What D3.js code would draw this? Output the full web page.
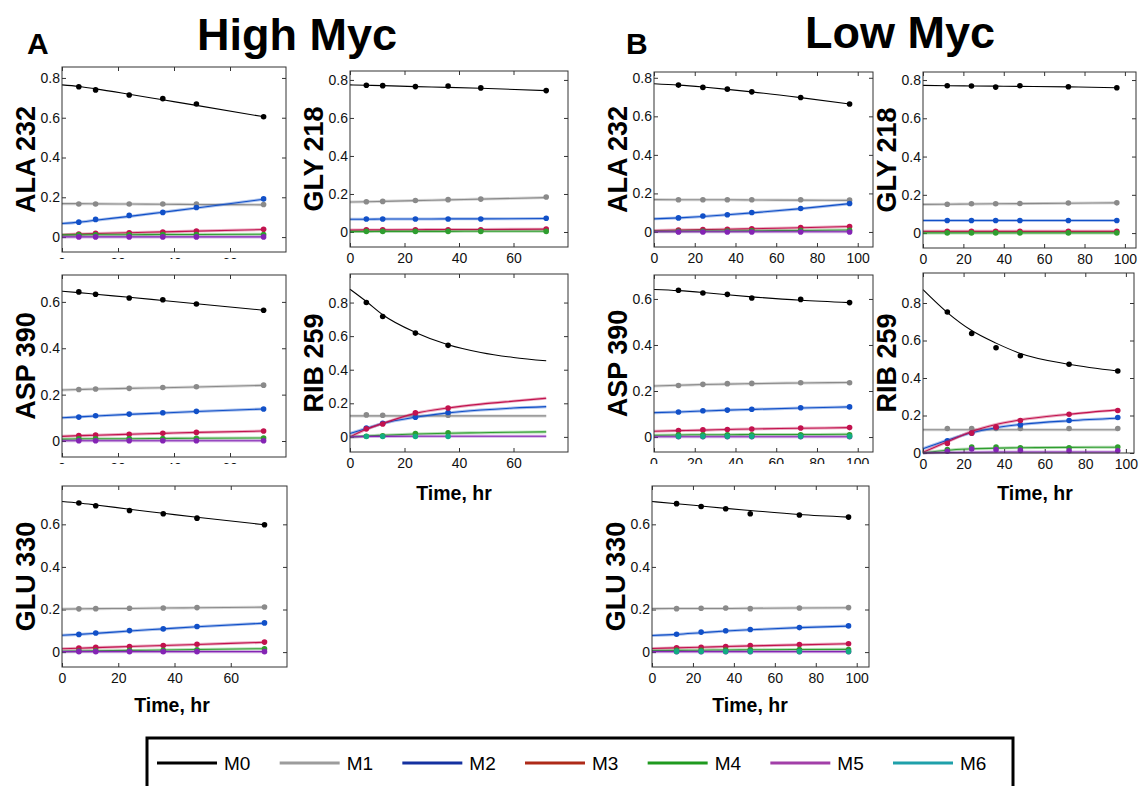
<!DOCTYPE html>
<html>
<head>
<meta charset="utf-8">
<script src="https://cdn.jsdelivr.net/npm/d3@7"></script>
<style>
  html, body { margin: 0; padding: 0; background: #fff; }
  svg { display: block; font-family: "Liberation Sans", Arial, Helvetica, sans-serif; }
</style>
</head>
<body>
<svg id="fig" width="1145" height="786"></svg>
<script>
// ---- Isotopologue labels -------------------------------------------------
const isotopologues = ["M0", "M1", "M2", "M3", "M4", "M5", "M6"];

// ---- Sampling times (hr) -------------------------------------------------
const highTimes = [6, 12, 24, 36, 48, 72];
const highRibTimes = [6, 12, 24, 36];
const lowTimes = [12, 24, 36, 48, 72, 96];
const highFitTimes = [0, 6, 12, 24, 36, 48, 72];
const highRibFitTimes = [0, 6, 12, 24, 36, 48, 60, 72];
const lowFitTimes = [0, 12, 24, 36, 48, 72, 96];

// ---- Axis tick values ----------------------------------------------------
const highXTicks = [0, 20, 40, 60];
const lowXTicks = [0, 20, 40, 60, 80, 100];
const yTicks08 = [0, 0.2, 0.4, 0.6, 0.8];
const yTicks06 = [0, 0.2, 0.4, 0.6];

// ---- High Myc: measured mass isotopomer fractions (rows M0..M6) ---------
const highAla232 = [
  [0.756, 0.740, 0.714, 0.696, 0.669, 0.605],
  [0.166, 0.166, 0.166, 0.166, 0.166, 0.164],
  [0.075, 0.089, 0.109, 0.124, 0.149, 0.192],
  [0.015, 0.019, 0.022, 0.025, 0.030, 0.039],
  [0.012, 0.012, 0.012, 0.013, 0.013, 0.013],
  [0.001, 0.001, 0.001, 0.001, 0.001, 0.001],
  null
];
const highAla232Fit = [
  [0.765, 0.757, 0.745, 0.718, 0.690, 0.662, 0.605],
  [0.168, 0.168, 0.167, 0.166, 0.165, 0.164, 0.162],
  [0.068, 0.075, 0.085, 0.104, 0.125, 0.146, 0.190],
  [0.012, 0.015, 0.018, 0.022, 0.026, 0.030, 0.038],
  [0.011, 0.011, 0.012, 0.012, 0.013, 0.013, 0.014],
  [0.001, 0.001, 0.001, 0.001, 0.001, 0.001, 0.001],
  null
];

const highGly218 = [
  [0.772, 0.770, 0.765, 0.768, 0.758, 0.744],
  [0.159, 0.161, 0.166, 0.170, 0.173, 0.184],
  [0.068, 0.068, 0.068, 0.068, 0.068, 0.072],
  [0.012, 0.012, 0.012, 0.012, 0.012, 0.016],
  [0.003, 0.003, 0.003, 0.003, 0.003, 0.003],
  null,
  null
];
const highGly218Fit = [
  [0.774, 0.772, 0.770, 0.765, 0.761, 0.756, 0.744],
  [0.158, 0.159, 0.161, 0.165, 0.169, 0.173, 0.181],
  [0.067, 0.067, 0.068, 0.068, 0.069, 0.069, 0.071],
  [0.010, 0.011, 0.011, 0.012, 0.013, 0.013, 0.015],
  [0.002, 0.002, 0.003, 0.003, 0.003, 0.004, 0.004],
  null,
  null
];

const highAsp390 = [
  [0.643, 0.633, 0.617, 0.609, 0.591, 0.564],
  [0.222, 0.224, 0.227, 0.231, 0.234, 0.241],
  [0.103, 0.109, 0.116, 0.122, 0.128, 0.138],
  [0.023, 0.026, 0.029, 0.033, 0.037, 0.043],
  [0.009, 0.010, 0.011, 0.011, 0.012, 0.013],
  [0.001, 0.001, 0.001, 0.001, 0.001, 0.001],
  null
];
const highAsp390Fit = [
  [0.646, 0.640, 0.633, 0.620, 0.606, 0.592, 0.564],
  [0.220, 0.222, 0.224, 0.227, 0.230, 0.233, 0.240],
  [0.100, 0.104, 0.108, 0.115, 0.121, 0.127, 0.138],
  [0.020, 0.023, 0.025, 0.029, 0.033, 0.037, 0.043],
  [0.008, 0.009, 0.010, 0.010, 0.011, 0.012, 0.013],
  [0.001, 0.001, 0.001, 0.001, 0.001, 0.001, 0.001],
  null
];

const highRib259 = [
  [0.800, 0.717, 0.618, 0.545],
  [0.131, 0.129, 0.128, 0.129],
  [0.053, 0.081, 0.117, 0.145],
  [0.048, 0.077, 0.143, 0.172],
  [0.004, 0.006, 0.020, 0.024],
  null,
  [0.002, 0.002, 0.002, 0.002]
];
const highRib259Fit = [
  [0.879, 0.806, 0.727, 0.622, 0.549, 0.503, 0.473, 0.453],
  [0.125, 0.125, 0.125, 0.125, 0.125, 0.125, 0.125, 0.125],
  [0.020, 0.050, 0.080, 0.117, 0.143, 0.160, 0.172, 0.180],
  [0.000, 0.045, 0.080, 0.140, 0.172, 0.195, 0.213, 0.230],
  [0.000, 0.006, 0.010, 0.017, 0.022, 0.025, 0.028, 0.030],
  [0.000, 0.002, 0.003, 0.004, 0.004, 0.004, 0.004, 0.004],
  null
];

const highGlu330 = [
  [0.700, 0.687, 0.665, 0.650, 0.629, 0.598],
  [0.203, 0.204, 0.206, 0.207, 0.209, 0.212],
  [0.083, 0.090, 0.101, 0.109, 0.120, 0.137],
  [0.019, 0.022, 0.026, 0.031, 0.037, 0.047],
  [0.005, 0.006, 0.008, 0.008, 0.011, 0.016],
  [0.002, 0.002, 0.002, 0.002, 0.002, 0.002],
  null
];
const highGlu330Fit = [
  [0.707, 0.700, 0.691, 0.671, 0.652, 0.633, 0.598],
  [0.202, 0.203, 0.204, 0.205, 0.207, 0.208, 0.211],
  [0.079, 0.083, 0.088, 0.099, 0.109, 0.119, 0.136],
  [0.016, 0.018, 0.021, 0.026, 0.031, 0.036, 0.046],
  [0.004, 0.005, 0.006, 0.008, 0.010, 0.012, 0.016],
  [0.002, 0.002, 0.002, 0.002, 0.002, 0.002, 0.002],
  null
];

// ---- Low Myc: measured mass isotopomer fractions (rows M0..M6) ----------
const lowAla232 = [
  [0.762, 0.750, 0.741, 0.727, 0.698, 0.664],
  [0.167, 0.167, 0.167, 0.167, 0.167, 0.165],
  [0.073, 0.083, 0.089, 0.101, 0.122, 0.148],
  [0.010, 0.012, 0.014, 0.017, 0.023, 0.028],
  [0.003, 0.004, 0.005, 0.006, 0.008, 0.009],
  [0.000, 0.000, 0.000, 0.000, 0.000, 0.000],
  null
];
const lowAla232Fit = [
  [0.769, 0.762, 0.752, 0.740, 0.727, 0.697, 0.664],
  [0.168, 0.167, 0.167, 0.167, 0.166, 0.165, 0.164],
  [0.068, 0.073, 0.080, 0.089, 0.099, 0.121, 0.147],
  [0.008, 0.010, 0.012, 0.014, 0.017, 0.022, 0.028],
  [0.003, 0.004, 0.005, 0.005, 0.006, 0.008, 0.010],
  [0.001, 0.001, 0.001, 0.001, 0.001, 0.001, 0.001],
  null
];

const lowGly218 = [
  [0.770, 0.769, 0.763, 0.770, 0.765, 0.760],
  [0.151, 0.153, 0.153, 0.155, 0.157, 0.158],
  [0.066, 0.066, 0.066, 0.066, 0.066, 0.066],
  [0.009, 0.009, 0.009, 0.009, 0.009, 0.009],
  [0.001, 0.001, 0.001, 0.001, 0.001, 0.001],
  null,
  null
];
const lowGly218Fit = [
  [0.772, 0.770, 0.769, 0.768, 0.767, 0.764, 0.760],
  [0.150, 0.151, 0.152, 0.153, 0.154, 0.156, 0.158],
  [0.066, 0.066, 0.066, 0.066, 0.066, 0.066, 0.066],
  [0.009, 0.009, 0.009, 0.009, 0.009, 0.009, 0.009],
  [0.001, 0.001, 0.001, 0.001, 0.001, 0.001, 0.001],
  null,
  null
];

const lowAsp390 = [
  [0.638, 0.626, 0.620, 0.604, 0.598, 0.584],
  [0.224, 0.229, 0.232, 0.233, 0.236, 0.236],
  [0.109, 0.114, 0.117, 0.121, 0.127, 0.131],
  [0.028, 0.031, 0.033, 0.035, 0.039, 0.041],
  [0.010, 0.010, 0.010, 0.010, 0.010, 0.010],
  [0.001, 0.001, 0.001, 0.001, 0.001, 0.001],
  [0.003, 0.003, 0.003, 0.003, 0.003, 0.003]
];
const lowAsp390Fit = [
  [0.641, 0.636, 0.628, 0.618, 0.609, 0.594, 0.584],
  [0.222, 0.225, 0.228, 0.230, 0.232, 0.235, 0.237],
  [0.106, 0.109, 0.113, 0.117, 0.120, 0.126, 0.131],
  [0.025, 0.028, 0.030, 0.033, 0.035, 0.038, 0.041],
  [0.008, 0.009, 0.010, 0.010, 0.011, 0.011, 0.012],
  [0.001, 0.001, 0.001, 0.001, 0.001, 0.001, 0.001],
  null
];

const lowRib259 = [
  [0.752, 0.637, 0.561, 0.519, 0.473, 0.437],
  [0.131, 0.131, 0.131, 0.131, 0.131, 0.131],
  [0.065, 0.106, 0.136, 0.150, 0.173, 0.189],
  [0.051, 0.106, 0.138, 0.173, 0.207, 0.227],
  [0.018, 0.032, 0.032, 0.028, 0.028, 0.032],
  [0.009, 0.021, 0.018, 0.014, 0.012, 0.012],
  null
];
const lowRib259Fit = [
  [0.871, 0.749, 0.653, 0.586, 0.531, 0.473, 0.437],
  [0.124, 0.124, 0.124, 0.124, 0.124, 0.124, 0.124],
  [0.023, 0.068, 0.108, 0.135, 0.152, 0.172, 0.185],
  [0.004, 0.060, 0.115, 0.152, 0.177, 0.207, 0.230],
  [0.000, 0.015, 0.022, 0.026, 0.028, 0.030, 0.031],
  [0.000, 0.003, 0.004, 0.005, 0.005, 0.005, 0.005],
  null
];

const lowGlu330 = [
  [0.697, 0.684, 0.673, 0.650, 0.644, 0.634],
  [0.204, 0.206, 0.207, 0.204, 0.207, 0.209],
  [0.084, 0.094, 0.100, 0.106, 0.115, 0.123],
  [0.020, 0.023, 0.026, 0.031, 0.036, 0.039],
  [0.008, 0.009, 0.010, 0.011, 0.012, 0.012],
  [0.002, 0.002, 0.002, 0.002, 0.002, 0.002],
  [0.003, 0.003, 0.003, 0.003, 0.003, 0.003]
];
const lowGlu330Fit = [
  [0.707, 0.697, 0.686, 0.675, 0.665, 0.646, 0.634],
  [0.204, 0.205, 0.205, 0.205, 0.206, 0.207, 0.208],
  [0.078, 0.083, 0.091, 0.099, 0.105, 0.115, 0.122],
  [0.017, 0.020, 0.023, 0.026, 0.029, 0.034, 0.039],
  [0.007, 0.008, 0.009, 0.010, 0.011, 0.012, 0.013],
  [0.002, 0.002, 0.002, 0.002, 0.002, 0.002, 0.002],
  null
];

// ---- Styling --------------------------------------------------------------
const traceColors  = ["#000000", "#8a8a8a", "#1150c8", "#c2124e", "#2f9e2f", "#8424b4", "#12ad82"];
const legendColors = ["#000000", "#9c9c9c", "#1431a0", "#ae2a18", "#1f9a1f", "#a23fa8", "#1fa0aa"];

// ---- Panel layout: box = [left, top, right, bottom] in px ----------------
const panels = [
  { name: "ALA 232", box: [62, 67, 286, 252],  x: [0, 80],  y: [-0.075, 0.855], xt: highXTicks, yt: yTicks08,
    t: highTimes, ft: highFitTimes, pts: highAla232, fit: highAla232Fit, clipY: 259 },
  { name: "GLY 218", box: [350, 71, 568, 247], x: [0, 80],  y: [-0.079, 0.847], xt: highXTicks, yt: yTicks08,
    t: highTimes, ft: highFitTimes, pts: highGly218, fit: highGly218Fit },
  { name: "ASP 390", box: [62, 275, 286, 457], x: [0, 80],  y: [-0.069, 0.716], xt: highXTicks, yt: yTicks06,
    t: highTimes, ft: highFitTimes, pts: highAsp390, fit: highAsp390Fit, clipY: 464 },
  { name: "RIB 259", box: [350, 274, 568, 452], x: [0, 80], y: [-0.09, 0.97],   xt: highXTicks, yt: yTicks08,
    t: highRibTimes, ft: highRibFitTimes, pts: highRib259, fit: highRib259Fit, xlabel: [454, 500] },
  { name: "GLU 330", box: [62, 486, 287, 667], x: [0, 80],  y: [-0.07, 0.78],   xt: highXTicks, yt: yTicks06,
    t: highTimes, ft: highFitTimes, pts: highGlu330, fit: highGlu330Fit, xlabel: [172, 712] },

  { name: "ALA 232", box: [654, 72, 873, 247],   x: [0, 107.5], y: [-0.078, 0.83],  xt: lowXTicks, yt: yTicks08,
    t: lowTimes, ft: lowFitTimes, pts: lowAla232, fit: lowAla232Fit },
  { name: "GLY 218", box: [923, 72, 1136, 248],  x: [0, 105.5], y: [-0.078, 0.842], xt: lowXTicks, yt: yTicks08,
    t: lowTimes, ft: lowFitTimes, pts: lowGly218, fit: lowGly218Fit },
  { name: "ASP 390", box: [654, 275, 873, 452],  x: [0, 107.5], y: [-0.065, 0.704], xt: lowXTicks, yt: yTicks06,
    t: lowTimes, ft: lowFitTimes, pts: lowAsp390, fit: lowAsp390Fit, clipY: 464 },
  { name: "RIB 259", box: [923, 273, 1134, 453], x: [0, 104],   y: [0, 0.96],      xt: lowXTicks, yt: yTicks08,
    t: lowTimes, ft: lowFitTimes, pts: lowRib259, fit: lowRib259Fit, xlabel: [1035, 500] },
  { name: "GLU 330", box: [652, 486, 869, 667],  x: [0, 106],   y: [-0.07, 0.78],  xt: lowXTicks, yt: yTicks06,
    t: lowTimes, ft: lowFitTimes, pts: lowGlu330, fit: lowGlu330Fit, xlabel: [750, 712] }
];

const svg = d3.select("#fig");
const fmtY = d => (d === 0 ? "0" : d3.format(".1f")(d));
const defs = svg.append("defs");

panels.forEach((p, pi) => {
  const [L, T, R, B] = p.box;
  const xs = d3.scaleLinear().domain(p.x).range([L, R]);
  const ys = d3.scaleLinear().domain(p.y).range([B, T]);
  const g = svg.append("g");

  // background
  g.append("rect").attr("x", L).attr("y", T).attr("width", R - L).attr("height", B - T)
    .attr("fill", "#fff");

  // ticks inside the box on all four sides
  const tickLen = 4;
  const axL = g.append("g").attr("transform", `translate(${L},0)`)
    .call(d3.axisRight(ys).tickValues(p.yt).tickSize(tickLen).tickFormat(""));
  const axR = g.append("g").attr("transform", `translate(${R},0)`)
    .call(d3.axisLeft(ys).tickValues(p.yt).tickSize(tickLen).tickFormat(""));
  const axT = g.append("g").attr("transform", `translate(0,${T})`)
    .call(d3.axisBottom(xs).tickValues(p.xt).tickSize(tickLen).tickFormat(""));
  const axB = g.append("g").attr("transform", `translate(0,${B})`)
    .call(d3.axisTop(xs).tickValues(p.xt).tickSize(tickLen).tickFormat(""));
  [axL, axR, axT, axB].forEach(a => {
    a.select(".domain").remove();
    a.selectAll("line").attr("stroke", "#333").attr("stroke-width", 1);
  });

  // tick labels
  const yLab = g.append("g").attr("transform", `translate(${L},0)`)
    .call(d3.axisLeft(ys).tickValues(p.yt).tickSize(0).tickPadding(2).tickFormat(fmtY));
  yLab.select(".domain").remove();
  yLab.selectAll("text").attr("font-size", 14).attr("fill", "#111")
    .attr("font-family", "Liberation Sans, Arial, sans-serif");

  const xLab = g.append("g").attr("transform", `translate(0,${B})`)
    .call(d3.axisBottom(xs).tickValues(p.xt).tickSize(0).tickPadding(6).tickFormat(d3.format("d")));
  xLab.select(".domain").remove();
  xLab.selectAll("text").attr("font-size", 14).attr("fill", "#111")
    .attr("font-family", "Liberation Sans, Arial, sans-serif");
  if (p.clipY) {
    const id = "xclip" + pi;
    defs.append("clipPath").attr("id", id).append("rect")
      .attr("x", L - 20).attr("y", B).attr("width", R - L + 40).attr("height", p.clipY - B);
    xLab.attr("clip-path", `url(#${id})`);
    xLab.attr("transform", null).selectAll(".tick")
      .attr("transform", d => `translate(${xs(d)},${B})`);
  }

  // traces
  const fitLine = d3.line().x(d => xs(d[0])).y(d => ys(d[1])).curve(d3.curveMonotoneX);
  isotopologues.forEach((iso, k) => {
    const fit = p.fit[k];
    if (fit) {
      const pairs = p.ft.map((t, i) => [t, fit[i]]);
      if (k > 0) {
        g.append("path").attr("d", fitLine(pairs)).attr("fill", "none")
          .attr("stroke", traceColors[k]).attr("stroke-opacity", 0.35).attr("stroke-width", 3);
      }
      g.append("path").attr("d", fitLine(pairs)).attr("fill", "none")
        .attr("stroke", traceColors[k]).attr("stroke-width", 1.1);
    }
    const vals = p.pts[k];
    if (vals) {
      g.selectAll(null).data(p.t.map((t, i) => [t, vals[i]])).join("circle")
        .attr("cx", d => xs(d[0])).attr("cy", d => ys(d[1])).attr("r", 2.8)
        .attr("fill", traceColors[k]);
    }
  });

  // box outline
  g.append("rect").attr("x", L).attr("y", T).attr("width", R - L).attr("height", B - T)
    .attr("fill", "none").attr("stroke", "#333").attr("stroke-width", 1);

  // metabolite fragment label
  g.append("text")
    .attr("transform", `translate(${L - 27},${(T + B) / 2}) rotate(-90)`)
    .attr("text-anchor", "middle").attr("font-weight", "bold").attr("font-size", 27)
    .attr("fill", "#000").text(p.name);

  // time axis title
  if (p.xlabel) {
    g.append("text").attr("x", p.xlabel[0]).attr("y", p.xlabel[1])
      .attr("text-anchor", "middle").attr("font-weight", "bold").attr("font-size", 19.5)
      .attr("fill", "#000").text("Time, hr");
  }
});

// ---- Column titles and panel letters ---------------------------------------
svg.append("text").attr("x", 297).attr("y", 50).attr("text-anchor", "middle")
  .attr("font-weight", "bold").attr("font-size", 45).text("High Myc");
svg.append("text").attr("x", 900).attr("y", 48).attr("text-anchor", "middle")
  .attr("font-weight", "bold").attr("font-size", 45).text("Low Myc");
svg.append("text").attr("x", 27).attr("y", 54).attr("font-weight", "bold").attr("font-size", 30).text("A");
svg.append("text").attr("x", 626).attr("y", 54).attr("font-weight", "bold").attr("font-size", 30).text("B");

// ---- Legend ----------------------------------------------------------------
const legend = svg.append("g");
legend.append("rect").attr("x", 147).attr("y", 738).attr("width", 866).attr("height", 70)
  .attr("fill", "#fff").attr("stroke", "#000").attr("stroke-width", 3);
const legX = d3.scalePoint().domain(isotopologues).range([157, 893]);
isotopologues.forEach((iso, k) => {
  const x0 = legX(iso);
  legend.append("line").attr("x1", x0).attr("x2", x0 + 60).attr("y1", 763).attr("y2", 763)
    .attr("stroke", legendColors[k]).attr("stroke-width", 3);
  legend.append("text").attr("x", x0 + 67).attr("y", 763).attr("dy", "0.35em")
    .attr("font-size", 19).attr("fill", "#000").text(iso);
});
</script>
</body>
</html>
